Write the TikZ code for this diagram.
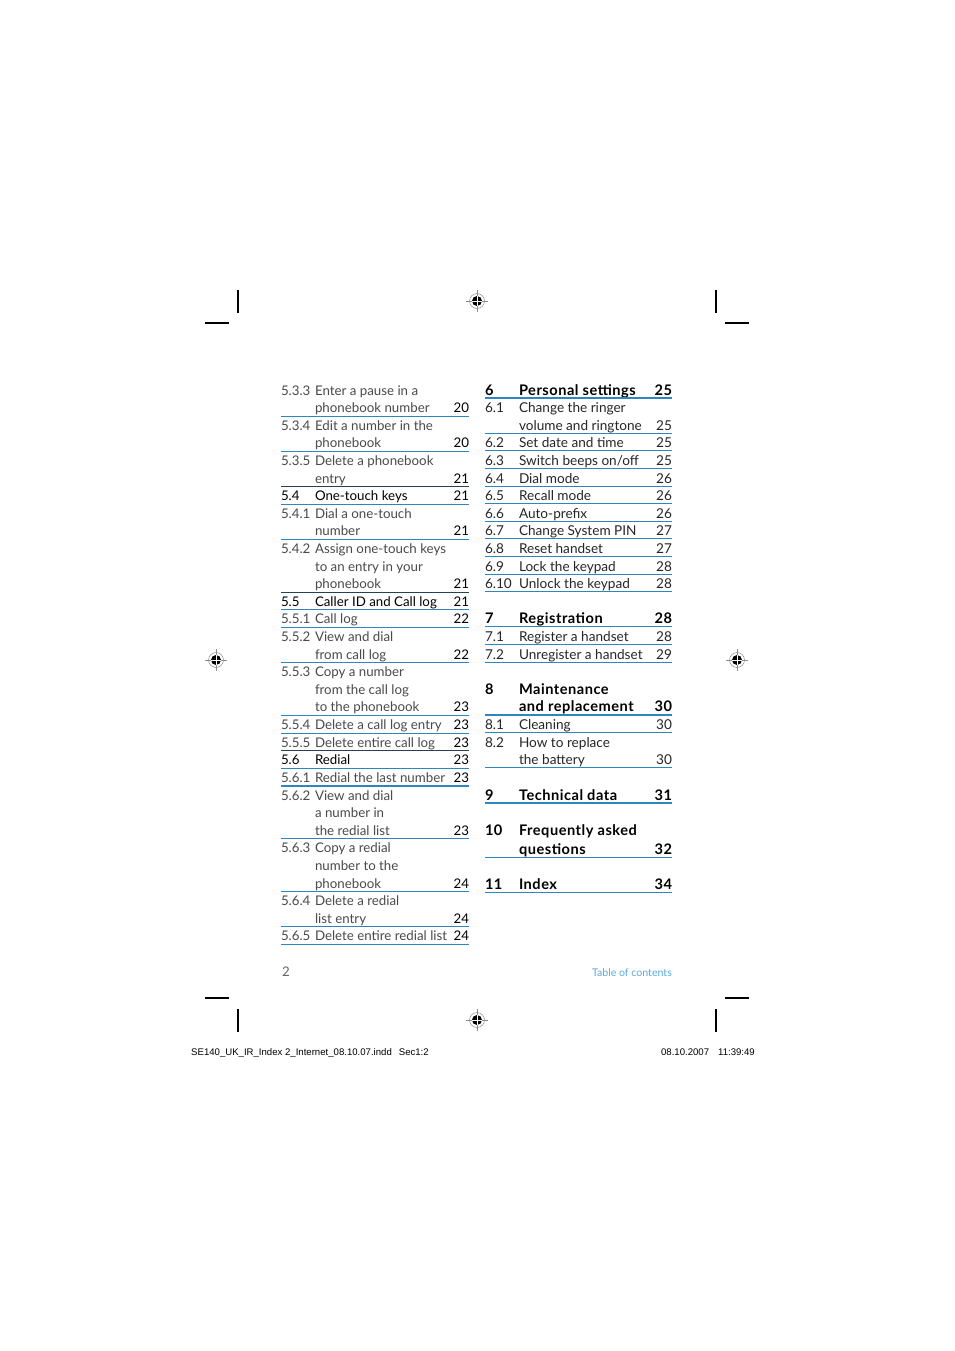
\documentclass[tikz,border=0pt]{standalone}
\usepackage{fontspec}
\setmainfont{Lato}
\newfontfamily\footfont{Liberation Sans}
\newfontfamily\boldwide[LetterSpace=3.5]{Lato}
\definecolor{rulblue}{HTML}{2E86C1}
\definecolor{ruldark}{HTML}{26405A}
\definecolor{lighttext}{HTML}{4A4A4A}
\definecolor{tocblue}{HTML}{5BAADD}
\tikzset{
  base/.style={inner sep=0pt, outer sep=0pt, font=\fontsize{13.3}{14}\selectfont},
  rbase/.style={inner sep=0pt, outer sep=0pt, font=\fontsize{13.6}{14}\selectfont},
  lnum/.style={base, anchor=base west, text=lighttext},
  ltxt/.style={base, anchor=base west, text=lighttext},
  lpg/.style={base, anchor=base east, text=black},
  lhead/.style={base, anchor=base west, text=black},
  rnum/.style={rbase, anchor=base west, text=black!85},
  rtxt/.style={rbase, anchor=base west, text=black!85},
  rpg/.style={rbase, anchor=base east, text=black!85},
  rbold/.style={base, anchor=base west, text=black, font=\boldwide\fontsize{14.6}{15}\selectfont\bfseries},
  rboldpg/.style={base, anchor=base east, text=black, font=\boldwide\fontsize{14.6}{15}\selectfont\bfseries},
  bluerule/.style={draw=rulblue, line width=1.1pt},
  darkrule/.style={draw=ruldark, line width=1.2pt},
  crop/.style={draw=black, line width=1.2pt},
}
% left column row: name, row index, number, text, page, text style
\newcommand\Lrow[6]{%
  \node[lnum,#6] (#1n) at (281,{395+17.61*#2}) {#3};
  \node[ltxt,#6] (#1t) at (315,{395+17.61*#2}) {#4};
  \node[lpg] (#1p) at (469,{395+17.61*#2}) {#5};}
\newcommand\Lrule[2]{\draw[#2] (281,{398.6+17.61*#1}) -- (469,{398.6+17.61*#1});}
\newcommand\Rrow[5]{%
  \node[rnum] (#1n) at (485,{395+17.61*#2}) {#3};
  \node[rtxt] (#1t) at (519,{395+17.61*#2}) {#4};
  \node[rpg] (#1p) at (672,{395+17.61*#2}) {#5};}
\newcommand\Rhead[5]{%
  \node[rbold] (#1n) at (485,{395+17.61*#2}) {#3};
  \node[rbold] (#1t) at (519,{395+17.61*#2}) {#4};
  \node[rboldpg] (#1p) at (672,{395+17.61*#2}) {#5};}
\newcommand\Rrule[1]{\draw[bluerule] (485,{398+17.61*#1}) -- (672,{398+17.61*#1});}
\newcommand\regmark[3]{%
  \coordinate (#1) at (#2,#3);
  \draw[black!45, line width=0.5pt] (#1) circle (7.5);
  \draw[black!45, line width=0.5pt] ($(#1)+(-11,0)$) -- ($(#1)+(11,0)$);
  \draw[black!45, line width=0.5pt] ($(#1)+(0,-11)$) -- ($(#1)+(0,11)$);
  \fill[black] (#1) circle (5);
  \draw[white, line width=0.6pt] ($(#1)+(-5,0)$) -- ($(#1)+(5,0)$);
  \draw[white, line width=0.6pt] ($(#1)+(0,-5)$) -- ($(#1)+(0,5)$);}
\usetikzlibrary{calc}
\begin{document}
\begin{tikzpicture}[x=1pt,y=-1pt]
\useasboundingbox[fill=white] (0,0) rectangle (954,1351);

% ---------- left column ----------
\Lrow{a0}{0}{5.3.3}{Enter a pause in a}{}{}
\Lrow{a1}{1}{}{phonebook number}{20}{}
\Lrule{1}{bluerule}
\Lrow{a2}{2}{5.3.4}{Edit a number in the}{}{}
\Lrow{a3}{3}{}{phonebook}{20}{}
\Lrule{3}{bluerule}
\Lrow{a4}{4}{5.3.5}{Delete a phonebook}{}{}
\Lrow{a5}{5}{}{entry}{21}{}
\Lrule{5}{darkrule}
\Lrow{a6}{6}{5.4}{One-touch keys}{21}{lhead}
\Lrule{6}{bluerule}
\Lrow{a7}{7}{5.4.1}{Dial a one-touch}{}{}
\Lrow{a8}{8}{}{number}{21}{}
\Lrule{8}{bluerule}
\Lrow{a9}{9}{5.4.2}{Assign one-touch keys}{}{}
\Lrow{a10}{10}{}{to an entry in your}{}{}
\Lrow{a11}{11}{}{phonebook}{21}{}
\Lrule{11}{darkrule}
\Lrow{a12}{12}{5.5}{Caller ID and Call log}{21}{lhead}
\Lrule{12}{bluerule}
\Lrow{a13}{13}{5.5.1}{Call log}{22}{}
\Lrule{13}{bluerule}
\Lrow{a14}{14}{5.5.2}{View and dial}{}{}
\Lrow{a15}{15}{}{from call log}{22}{}
\Lrule{15}{bluerule}
\Lrow{a16}{16}{5.5.3}{Copy a number}{}{}
\Lrow{a17}{17}{}{from the call log}{}{}
\Lrow{a18}{18}{}{to the phonebook}{23}{}
\Lrule{18}{bluerule}
\Lrow{a19}{19}{5.5.4}{Delete a call log entry}{23}{}
\Lrule{19}{bluerule}
\Lrow{a20}{20}{5.5.5}{Delete entire call log}{23}{}
\Lrule{20}{darkrule}
\Lrow{a21}{21}{5.6}{Redial}{23}{lhead}
\Lrule{21}{bluerule}
\Lrow{a22}{22}{5.6.1}{Redial the last number}{23}{}
\Lrule{22}{bluerule}
\Lrow{a23}{23}{5.6.2}{View and dial}{}{}
\Lrow{a24}{24}{}{a number in}{}{}
\Lrow{a25}{25}{}{the redial list}{23}{}
\Lrule{25}{bluerule}
\Lrow{a26}{26}{5.6.3}{Copy a redial}{}{}
\Lrow{a27}{27}{}{number to the}{}{}
\Lrow{a28}{28}{}{phonebook}{24}{}
\Lrule{28}{bluerule}
\Lrow{a29}{29}{5.6.4}{Delete a redial}{}{}
\Lrow{a30}{30}{}{list entry}{24}{}
\Lrule{30}{bluerule}
\Lrow{a31}{31}{5.6.5}{Delete entire redial list}{24}{}
\Lrule{31}{bluerule}

% ---------- right column ----------
\Rhead{b0}{0}{6}{Personal settings}{25}
\Rrule{0}
\Rrow{b1}{1}{6.1}{Change the ringer}{}
\Rrow{b2}{2}{}{volume and ringtone}{25}
\Rrule{2}
\Rrow{b3}{3}{6.2}{Set date and time}{25}
\Rrule{3}
\Rrow{b4}{4}{6.3}{Switch beeps on/off}{25}
\Rrule{4}
\Rrow{b5}{5}{6.4}{Dial mode}{26}
\Rrule{5}
\Rrow{b6}{6}{6.5}{Recall mode}{26}
\Rrule{6}
\Rrow{b7}{7}{6.6}{Auto-prefix}{26}
\Rrule{7}
\Rrow{b8}{8}{6.7}{Change System PIN}{27}
\Rrule{8}
\Rrow{b9}{9}{6.8}{Reset handset}{27}
\Rrule{9}
\Rrow{b10}{10}{6.9}{Lock the keypad}{28}
\Rrule{10}
\Rrow{b11}{11}{6.10}{Unlock the keypad}{28}
\Rrule{11}
\Rhead{b13}{13}{7}{Registration}{28}
\Rrule{13}
\Rrow{b14}{14}{7.1}{Register a handset}{28}
\Rrule{14}
\Rrow{b15}{15}{7.2}{Unregister a handset}{29}
\Rrule{15}
\Rhead{b17}{17}{8}{Maintenance}{}
\Rhead{b18}{18}{}{and replacement}{30}
\Rrule{18}
\Rrow{b19}{19}{8.1}{Cleaning}{30}
\Rrule{19}
\Rrow{b20}{20}{8.2}{How to replace}{}
\Rrow{b21}{21}{}{the battery}{30}
\Rrule{21}
\Rhead{b23}{23}{9}{Technical data}{31}
\Rrule{23}
\Rhead{b25}{25}{10}{Frequently asked}{}
\Rhead{b26}{26.1}{}{questions}{32}
\Rrule{26.1}
\Rhead{b28}{28.1}{11}{Index}{34}
\Rrule{28.1}

% ---------- page footer ----------
\node[base, anchor=base west, text=black!60] (pgno) at (282,976) {2};
\node[inner sep=0pt, anchor=base east, text=tocblue, font=\fontsize{10.6}{11}\selectfont] (toc) at (672,976) {Table of contents};

% ---------- crop marks ----------
\draw[crop] (238,290) -- (238,313);
\draw[crop] (205,323) -- (229,323);
\draw[crop] (716,290) -- (716,313);
\draw[crop] (725,323) -- (749,323);
\draw[crop] (205,998) -- (229,998);
\draw[crop] (238,1009) -- (238,1032);
\draw[crop] (725,998) -- (749,998);
\draw[crop] (716,1009) -- (716,1032);

% ---------- registration marks ----------
\regmark{rtop}{477}{301}
\regmark{rbot}{477}{1020}
\regmark{rleft}{216}{660}
\regmark{rright}{737}{660}

% ---------- slug ----------
\node[inner sep=0pt, anchor=base west, font=\footfont\fontsize{9.6}{11}\selectfont] (slugl) at (191,1055) {SE140\_UK\_IR\_Index 2\_Internet\_08.10.07.indd\hspace{7pt}Sec1:2};
\node[inner sep=0pt, anchor=base east, font=\footfont\fontsize{9.6}{11}\selectfont] (slugr) at (755,1055) {08.10.2007\hspace{9pt}11:39:49};
\end{tikzpicture}
\end{document}
